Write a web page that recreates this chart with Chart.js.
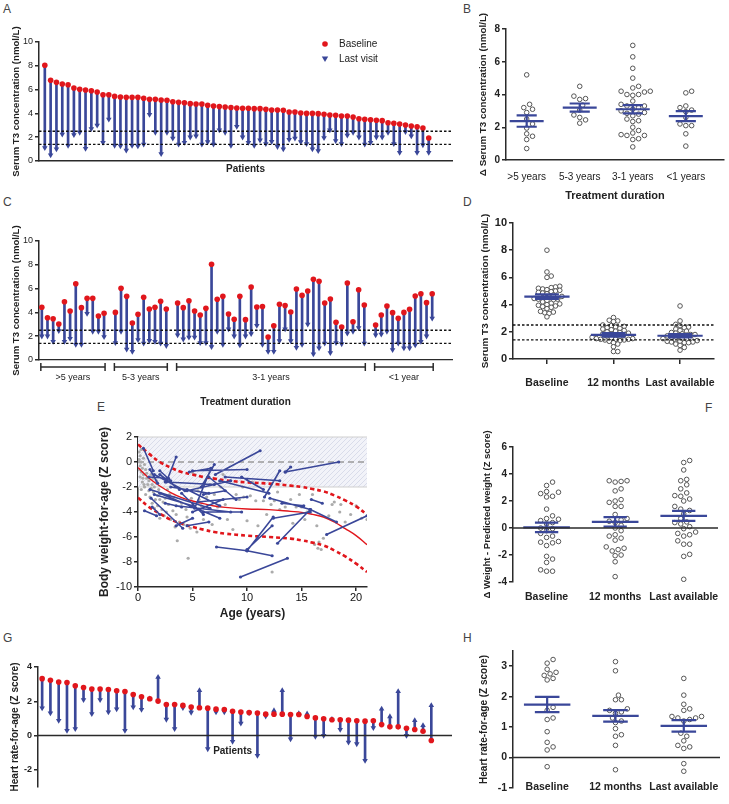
<!DOCTYPE html>
<html>
<head>
<meta charset="utf-8">
<script src="https://cdn.jsdelivr.net/npm/chart.js@4.4.1/dist/chart.umd.min.js"></script>
<style>
body { margin: 0; background: #fff; width: 729px; height: 804px; position: relative; overflow: hidden; font-family: "Liberation Sans", Arial, sans-serif; }
canvas { position: absolute; }
.tag { position: absolute; font-size: 12px; color: #444; }
</style>
</head>
<body>
<div class="tag" style="left:3px;top:2px">A</div>
<div class="tag" style="left:463px;top:2px">B</div>
<div class="tag" style="left:3px;top:195px">C</div>
<div class="tag" style="left:463px;top:195px">D</div>
<div class="tag" style="left:97px;top:400px">E</div>
<div class="tag" style="left:705px;top:401px">F</div>
<div class="tag" style="left:3px;top:631px">G</div>
<div class="tag" style="left:463px;top:631px">H</div>

<canvas id="chartA"></canvas>
<canvas id="chartB"></canvas>
<canvas id="chartC"></canvas>
<canvas id="chartD"></canvas>
<canvas id="chartE"></canvas>
<canvas id="chartF"></canvas>
<canvas id="chartG"></canvas>
<canvas id="chartH"></canvas>

<script>
// ---- Serum T3 per patient (panel C order, A is the same patients sorted)
const durationGroups = ['>5 years', '5-3 years', '3-1 years', '<1 year'];
const groupSizes = [12, 10, 34, 11];
const t3Baseline = [
    4.43, 3.55, 3.47, 3.03, 4.9, 4.12, 6.41, 4.4, 5.18, 5.18, 3.7, 3.92,
    4.0, 6.02, 5.35, 3.1, 3.84, 5.27, 4.29, 4.43, 4.93, 4.29,
    4.79, 4.4, 4.98, 4.12, 3.78, 4.34, 8.04, 5.1, 5.35, 3.87, 3.42, 5.35, 3.39, 6.13, 4.45, 4.5, 1.93,
    2.88, 4.68, 4.57, 4.03, 5.97, 5.43, 5.8, 6.78, 6.61, 4.79, 5.13, 3.17, 2.77, 6.47, 3.22, 5.9, 4.62,
    2.94, 3.78, 4.54, 3.98, 3.5, 4.0, 4.26, 5.38, 5.57, 4.82, 5.57
];
const t3LastVisit = [
    2.0, 2.0, 1.55, 2.45, 1.55, 1.8, 1.3, 1.3, 3.9, 2.4, 2.4, 1.95,
    1.45, 2.4, 0.9, 0.7, 1.7, 1.4, 1.62, 1.55, 1.4, 1.2,
    2.1, 1.75, 1.9, 1.9, 1.45, 1.45, 1.1, 2.4, 1.3, 2.6, 2.0, 1.25, 2.0, 2.2, 2.9, 1.3, 0.7,
    0.7, 1.6, 2.6, 1.6, 1.05, 1.3, 3.0, 0.5, 1.0, 1.4, 0.6, 1.45, 1.35, 2.25, 2.4, 2.7, 1.4,
    2.1, 2.15, 2.4, 0.85, 1.4, 1.0, 1.0, 1.25, 1.55, 2.0, 3.5
];
const t3RefRange = [1.4, 2.5];
const t3Ticks = [0, 2, 4, 6, 8, 10];

// ---- Delta T3 by treatment duration (panel B)
const deltaGroups = ['>5 years', '5-3 years', '3-1 years', '<1 years'];
const deltaOver5 = [5.2, 3.4, 3.2, 3.1, 2.9, 2.5, 2.2, 1.95, 1.6, 1.45, 1.25, 0.7];
const delta5to3 = [4.5, 3.9, 3.75, 3.7, 3.35, 3.05, 2.75, 2.6, 2.45, 2.25];
const delta3to1 = [7.0, 6.3, 5.6, 5.0, 4.5, 4.4, 4.2, 4.2, 4.15, 4.0, 4.0, 3.95, 3.6, 3.4, 3.3, 3.3, 3.2, 3.1,
    3.0, 2.9, 2.85, 2.8, 2.7, 2.5, 2.4, 2.35, 2.0, 1.8, 1.65, 1.55, 1.5, 1.5, 1.3, 1.25, 0.8];
const deltaUnder1 = [4.2, 4.1, 3.3, 3.2, 3.05, 2.95, 2.6, 2.2, 2.1, 2.1, 1.6, 0.85];
const deltaMean = [2.38, 3.2, 3.1, 2.68];
const deltaSem = [0.35, 0.25, 0.25, 0.3];
const deltaTicks = [0, 2, 4, 6, 8];

// ---- T3 by visit (panel D)
const visitLabels = ['Baseline', '12 months', 'Last available'];
const t3AtBaseline = [8.0, 6.4, 6.1, 6.0, 5.35, 5.3, 5.25, 5.2, 5.15, 5.1, 5.05, 5.0, 4.95, 4.9, 4.85, 4.8, 4.7,
    4.6, 4.55, 4.5, 4.45, 4.4, 4.4, 4.35, 4.3, 4.2, 4.1, 4.05, 4.0, 3.95, 3.9, 3.85, 3.8, 3.7, 3.5, 3.45, 3.4, 3.35, 3.1];
const t3At12m = [3.05, 2.85, 2.8, 2.75, 2.5, 2.45, 2.4, 2.35, 2.3, 2.25, 2.2, 2.15, 2.1, 2.05, 2.0, 1.95, 1.9,
    1.85, 1.85, 1.8, 1.75, 1.7, 1.65, 1.6, 1.55, 1.5, 1.5, 1.45, 1.45, 1.45, 1.4, 1.4, 1.35, 1.3, 1.2, 1.1, 0.9, 0.55, 0.55];
const t3AtLast = [3.9, 2.8, 2.55, 2.45, 2.35, 2.3, 2.2, 2.1, 2.05, 1.95, 1.9, 1.85, 1.8, 1.8, 1.75, 1.7, 1.65,
    1.6, 1.55, 1.5, 1.5, 1.45, 1.4, 1.35, 1.3, 1.3, 1.25, 1.25, 1.2, 1.2, 1.1, 1.0, 0.85, 0.65];
const t3VisitMean = [4.59, 1.78, 1.71];
const t3VisitSem = [0.17, 0.13, 0.12];

// ---- Weight for age (panel E)
const ageTicks = [0, 5, 10, 15, 20];
const zTicks = [-10, -8, -6, -4, -2, 0, 2];
const normalBand = [-2, 2];
const grayAge = [0.1, 0.2, 0.1, 0.3, 0.2, 0.4, 0.3, 0.5, 0.2, 0.6, 0.5, 0.7, 0.8, 0.4, 0.9, 0.6, 0.3, 0.8, 1.0, 1.0,
    0.7, 0.1, 0.3, 0.15, 0.45, 0.55, 1.2, 1.3, 1.4, 1.1, 1.5, 1.6, 1.7, 1.8, 1.9, 1.3, 1.5, 2.0, 1.2, 1.8, 1.4,
    2.1, 2.3, 2.5, 2.2, 2.6, 2.8, 2.9, 2.4, 3.0, 2.7, 2.0, 3.2, 3.5, 3.8, 4.0, 4.2, 4.5, 4.8, 3.6, 4.6, 3.4, 4.9,
    3.3, 4.4, 5.2, 5.5, 5.8, 6.0, 6.3, 6.6, 7.0, 7.3, 7.6, 8.0, 8.5, 5.0, 5.4, 6.8, 8.2, 5.6, 7.8, 8.8, 9.0, 9.3,
    9.7, 10.0, 10.3, 10.8, 11.0, 11.5, 11.8, 12.2, 12.5, 12.3, 8.7, 9.6, 10.5, 13.0, 12.8, 13.5, 14.0, 14.5, 14.8,
    15.0, 15.5, 16.0, 16.2, 16.5, 16.8, 16.6, 17.0, 17.5, 17.8, 18.0, 18.6, 19.0, 19.5, 20.0, 20.5, 21.0, 14.2,
    16.4, 18.5, 15.3];
const grayZ = [0.8, 0.5, 0.2, 0.0, -0.3, -0.5, -0.8, -1.0, -1.2, -0.2, 0.3, -0.6, -1.3, -1.6, -1.8, -2.0, -2.2, -0.9,
    -1.5, -2.3, -2.6, -0.6, 1.0, 0.0, -1.3, -1.8, -1.0, -1.8, -2.4, -2.8, -2.0, -3.0, -1.5, -2.7, -2.2, -3.3, -3.7,
    -3.0, -2.1, -3.5, -1.3, -2.5, -3.2, -2.9, -3.8, -4.0, -3.4, -2.6, -4.3, -4.6, -2.2, -4.5, -3.9, -4.2, -4.8, -3.3,
    -5.0, -4.4, -5.3, -6.3, -7.7, -5.2, -2.9, -2.8, -3.8, -1.0, -2.3, -3.5, -4.6, -2.8, -1.8, -2.6, -3.6, -2.0, -3.4,
    -1.5, -0.8, -5.6, -5.0, -4.6, -3.0, -1.0, -2.9, -2.6, -3.0, -2.8, -4.7, -2.7, -3.1, -5.1, -3.1, -4.2, -3.4, -3.1,
    -8.8, -5.4, -2.0, -1.6, -3.8, -2.4, -3.6, -3.0, -3.6, -2.6, -3.6, -4.0, -2.6, -6.6, -6.9, -7.0, -6.4, -6.1, -4.3,
    -3.4, -3.2, -3.4, -4.8, -4.2, -3.5, -4.5, -4.6, -4.9, -5.1, -4.0, -4.6];
// patient trajectories: first and last measurement
const segAgeFrom = [0.5, 3.5, 1.1, 4.7, 6.7, 1.1, 1.2, 0.6, 5.0, 11.2, 18.4, 14.0, 13.0, 12.1, 15.8, 15.9, 21.0,
    15.8, 12.4, 12.4, 7.2, 10.0, 9.4, 12.3, 2.0, 1.5, 2.5, 3.0, 1.5, 2.0, 3.5, 6.5, 8.0, 7.5, 9.5, 4.0, 6.0, 4.5,
    3.5, 2.5, 7.0, 8.5, 7.8, 1.0, 2.0, 13.2, 6.0, 4.5, 10.0, 1.3];
const segZFrom = [1.1, 0.4, -0.6, -0.8, -0.5, -2.2, -2.9, -3.9, -0.7, 0.9, 0.0, -0.4, -0.7, -2.9, -3.8, -3.0, -4.3,
    -3.8, -4.5, -4.4, -6.8, -7.1, -9.2, -5.1, -0.7, -1.0, -1.6, -2.0, -2.6, -2.5, -3.5, -1.2, -1.2, -1.5, -1.2, -2.5,
    -4.0, -5.1, -5.1, -3.3, -0.2, -1.5, -3.0, -1.2, -1.0, -3.3, -2.6, -2.2, -2.8, -3.6];
const segAgeTo = [1.4, 2.6, 1.8, 6.7, 5.2, 6.6, 4.1, 1.7, 10.0, 7.1, 13.5, 13.5, 11.6, 15.8, 18.2, 16.9, 17.3,
    12.8, 15.8, 10.0, 10.0, 12.3, 13.7, 10.0, 3.0, 4.3, 7.0, 6.5, 5.0, 7.5, 8.5, 9.0, 13.0, 12.0, 11.5, 6.0, 9.5, 6.5,
    5.0, 4.0, 5.8, 4.5, 5.0, 2.8, 3.8, 15.2, 8.0, 7.5, 5.5, 2.0];
const segZTo = [-0.7, -1.6, -1.7, -0.5, -3.7, -3.7, -5.3, -4.3, -0.6, -1.0, -0.8, -0.8, -2.8, -3.8, -4.8, -3.3, -5.8,
    -6.5, -4.0, -7.1, -7.1, -7.5, -7.7, -7.0, -1.5, -2.3, -1.8, -2.5, -3.5, -4.5, -4.0, -3.0, -1.5, -2.5, -2.2, -4.2,
    -4.0, -4.8, -4.5, -3.6, -2.0, -2.3, -4.0, -1.3, -2.2, -3.5, -2.3, -3.5, -3.2, -4.2];
// fitted curve and 95% band
const fitAge = [0, 1, 2, 3, 4, 5, 6, 7, 8, 10, 12, 14, 15, 16, 17, 18, 19, 20, 21];
const fitMid = [-0.45, -1.28, -1.92, -2.45, -2.85, -3.12, -3.33, -3.52, -3.63, -3.76, -3.81, -3.95, -4.03, -4.19,
    -4.4, -4.8, -5.33, -5.89, -6.61];
const fitUpper = [1.41, 0.67, 0.0, -0.45, -0.8, -1.0, -1.2, -1.33, -1.47, -1.63, -1.73, -1.89, -2.0, -2.16, -2.35,
    -2.67, -3.07, -3.55, -4.21];
const fitLower = [-2.85, -3.6, -4.13, -4.61, -4.93, -5.2, -5.41, -5.6, -5.73, -5.89, -6.0, -6.13, -6.27, -6.45, -6.67,
    -7.07, -7.55, -8.13, -8.8];

// ---- Weight minus predicted (panel F)
const wdBaseline = [3.4, 3.15, 2.7, 2.65, 2.55, 2.35, 2.3, 1.4, 0.9, 0.7, 0.65, 0.55, 0.4, 0.3, 0.0, -0.05, -0.2,
    -0.4, -0.6, -0.7, -1.0, -1.05, -1.1, -1.3, -2.1, -2.3, -2.55, -3.1, -3.2, -3.2];
const wd12m = [3.5, 3.5, 3.45, 3.4, 2.9, 2.75, 2.1, 2.0, 1.9, 1.6, 1.6, 1.0, 0.7, 0.6, 0.5, 0.4, 0.2, 0.0, -0.2,
    -0.5, -0.6, -0.75, -0.9, -1.4, -1.5, -1.6, -1.7, -2.0, -2.05, -2.5, -3.6];
const wdLast = [5.0, 4.85, 4.3, 3.6, 3.5, 3.2, 2.9, 2.6, 2.4, 2.35, 2.15, 2.0, 1.6, 1.4, 1.3, 1.05, 0.7, 0.45, 0.4,
    0.3, 0.1, -0.05, -0.3, -0.4, -0.5, -0.6, -0.95, -1.2, -1.2, -1.95, -2.1, -3.8];
const wdMean = [0.05, 0.45, 0.9];
const wdSem = [0.35, 0.35, 0.37];
const wdTicks = [-4, -2, 0, 2, 4, 6];

// ---- Heart rate per patient (panel G)
const hrBaseline = [3.32, 3.22, 3.12, 3.1, 2.9, 2.8, 2.71, 2.71, 2.69, 2.61, 2.57, 2.4, 2.26, 2.15, 2.01, 1.81, 1.81,
    1.76, 1.66, 1.62, 1.6, 1.54, 1.52, 1.42, 1.37, 1.35, 1.31, 1.25, 1.25, 1.25, 1.23, 1.23, 1.11, 1.03, 0.98, 0.92,
    0.92, 0.9, 0.86, 0.84, 0.86, 0.64, 0.51, 0.51, 0.43, 0.35, 0.25, -0.29];
const hrLastVisit = [1.6, 1.31, 0.88, 0.29, 0.39, 2.09, 1.27, 2.09, 1.37, 1.54, 0.29, 1.66, 1.52, 2.15, 3.41, 0.94,
    0.39, 1.62, 1.35, 2.63, -0.78, 1.37, 1.37, -0.35, 0.72, 1.31, -1.17, 1.13, 1.46, 2.63, -0.2, 1.29, 1.27, -0.06, 0,
    0.96, 0.35, -0.39, -0.49, -1.46, 0.45, 1.56, 1.11, 2.58, 0, 0.88, 0.59, 1.76];
const hrTicks = [-2, 0, 2, 4];

// ---- Heart rate by visit (panel H)
const hrAtBaseline = [3.22, 3.1, 2.9, 2.8, 2.75, 2.7, 2.6, 2.55, 1.65, 1.55, 1.3, 1.25, 0.85, 0.5, 0.35, 0.25, -0.3];
const hrAt12m = [3.15, 2.85, 2.05, 1.9, 1.9, 1.6, 1.55, 1.5, 1.45, 1.3, 1.2, 1.15, 0.95, 0.75, 0.7, 0.4, -0.4];
const hrAtLast = [2.6, 2.05, 1.75, 1.6, 1.55, 1.35, 1.35, 1.3, 1.3, 1.25, 1.2, 0.8, 0.7, 0.55, 0.4, 0.35, 0.3, -0.2, -0.45];
const hrVisitMean = [1.74, 1.37, 1.04];
const hrVisitSem = [0.25, 0.19, 0.19];
const hrVisitTicks = [-1, 0, 1, 2, 3];

// ------------------------------------------------------------------
const RED = '#e1161c';
const BLUE = '#3a4799';
const AXIS = '#2a2a2a';
const FONT = '"Liberation Sans", Arial, sans-serif';

Chart.defaults.font.family = FONT;
Chart.defaults.color = '#222';
Chart.defaults.animation = false;
Chart.defaults.responsive = false;
Chart.defaults.events = [];
Chart.defaults.plugins.legend.display = false;
Chart.defaults.plugins.tooltip.enabled = false;

// place a canvas and work out the padding that puts the plot area where we want it
function frame(id, box, area) {
    const c = document.getElementById(id);
    c.style.left = box.x + 'px';
    c.style.top = box.y + 'px';
    c.width = box.w;
    c.height = box.h;
    return {
        canvas: c,
        padding: { top: area.t - box.y, right: box.x + box.w - area.r, left: 0, bottom: 0 },
        yW: area.l - box.x,
        xH: box.y + box.h - area.b
    };
}

function yAxis(f, min, max, ticks, title, o) {
    return {
        type: 'linear', min, max,
        afterFit: s => { s.width = f.yW; },
        afterBuildTicks: s => { s.ticks = ticks.map(v => ({ value: v })); },
        border: { color: AXIS, width: 1.5 },
        grid: { drawOnChartArea: false, color: AXIS, lineWidth: 1.5, tickLength: 4 },
        ticks: { font: { size: o.tick, weight: o.bold ? 'bold' : 'normal' }, color: '#222', padding: 2 },
        title: { display: true, text: title, color: '#222', font: { size: o.title, weight: 'bold' }, padding: { top: o.pad, bottom: 0 } }
    };
}

function line(ctx, x1, y1, x2, y2) {
    ctx.beginPath();
    ctx.moveTo(x1, y1);
    ctx.lineTo(x2, y2);
    ctx.stroke();
}

function hatch() {
    const p = document.createElement('canvas');
    p.width = 5; p.height = 5;
    const c = p.getContext('2d');
    c.fillStyle = '#f2f3f9';
    c.fillRect(0, 0, 5, 5);
    c.strokeStyle = '#d2d5e6';
    c.lineWidth = 0.8;
    line(c, -1, 6, 6, -1);
    return c.createPattern(p, 'repeat');
}

// extra drawing: reference lines, brackets, legend, free labels
const guides = {
    id: 'guides',
    beforeDatasetsDraw(chart, args, o) {
        const { ctx, chartArea: a, scales: { y } } = chart;
        if (o.band) {
            const top = y.getPixelForValue(o.band[1]);
            const bot = y.getPixelForValue(o.band[0]);
            ctx.save();
            ctx.fillStyle = hatch();
            ctx.fillRect(a.left, top, a.right - a.left, bot - top);
            ctx.strokeStyle = '#cfcfcf';
            ctx.lineWidth = 1.2;
            line(ctx, a.left, top, a.right, top);
            line(ctx, a.left, bot, a.right, bot);
            ctx.strokeStyle = '#9a9a9a';
            ctx.lineWidth = 1.6;
            ctx.setLineDash([6, 4]);
            const z = y.getPixelForValue(0);
            line(ctx, a.left, z, a.right, z);
            ctx.restore();
        }
    },
    afterDatasetsDraw(chart, args, o) {
        const { ctx, chartArea: a, scales: { x, y } } = chart;
        ctx.save();
        if (o.refLines) {
            ctx.strokeStyle = '#111';
            ctx.lineWidth = 1.3;
            ctx.setLineDash([2.5, 2]);
            o.refLines.forEach(v => {
                const py = y.getPixelForValue(v);
                line(ctx, a.left, py, a.right, py);
            });
            ctx.setLineDash([]);
        }
        if (o.zeroLine) {
            ctx.strokeStyle = AXIS;
            ctx.lineWidth = 1.5;
            const py = y.getPixelForValue(0);
            line(ctx, a.left, py, a.right, py);
        }
        if (o.brackets) {
            const b = o.brackets;
            ctx.strokeStyle = AXIS;
            ctx.lineWidth = 1.5;
            ctx.fillStyle = '#222';
            ctx.font = '9px ' + FONT;
            ctx.textAlign = 'center';
            ctx.textBaseline = 'middle';
            const by = a.bottom + 7;
            b.names.forEach((name, i) => {
                const x1 = x.getPixelForValue(b.starts[i]) - 1;
                const x2 = x.getPixelForValue(b.ends[i]) + 1;
                line(ctx, x1, by, x2, by);
                line(ctx, x1, by - 4, x1, by + 4);
                line(ctx, x2, by - 4, x2, by + 4);
                ctx.fillText(name, (x1 + x2) / 2, a.bottom + 18);
            });
        }
        if (o.legend) {
            const lx = a.left + 286;
            const ly = a.top + 2;
            ctx.fillStyle = RED;
            ctx.beginPath();
            ctx.arc(lx, ly, 2.8, 0, Math.PI * 2);
            ctx.fill();
            ctx.fillStyle = BLUE;
            ctx.beginPath();
            ctx.moveTo(lx - 3.2, ly + 12.5);
            ctx.lineTo(lx + 3.2, ly + 12.5);
            ctx.lineTo(lx, ly + 18);
            ctx.closePath();
            ctx.fill();
            ctx.fillStyle = '#222';
            ctx.font = '10px ' + FONT;
            ctx.textAlign = 'left';
            ctx.textBaseline = 'middle';
            ctx.fillText(o.legend[0], lx + 14, ly);
            ctx.fillText(o.legend[1], lx + 14, ly + 15);
        }
        if (o.note) {
            ctx.fillStyle = '#222';
            ctx.font = 'bold 10px ' + FONT;
            ctx.textAlign = 'center';
            ctx.textBaseline = 'middle';
            ctx.fillText(o.note.text, x.getPixelForValue(o.note.at), y.getPixelForValue(0) + 16);
        }
        if (o.cats) {
            // category names level with the bottom of the value axis
            ctx.fillStyle = '#222';
            ctx.font = 'bold 10.5px ' + FONT;
            ctx.textAlign = 'center';
            ctx.textBaseline = 'middle';
            o.cats.forEach((name, i) => ctx.fillText(name, x.getPixelForValue(i + 1), a.bottom - 1));
        }
        ctx.restore();
    }
};
Chart.register(guides);

// before/after chart (panels A, C, G)
function arrowChart(f, labels, base, last, o) {
    const bars = base.map((b, i) => (b === null ? null : [Math.min(b, last[i]), Math.max(b, last[i])]));
    return new Chart(f.canvas, {
        type: 'bar',
        data: {
            labels,
            datasets: [
                { type: 'line', data: base, showLine: false, order: 0,
                  pointRadius: o.dot, pointBackgroundColor: RED, pointBorderWidth: 0 },
                { type: 'line', data: last, showLine: false, order: 1,
                  pointStyle: 'triangle', pointRadius: 3.2, pointBackgroundColor: BLUE, pointBorderWidth: 0,
                  pointRotation: ctx => (last[ctx.dataIndex] < base[ctx.dataIndex] ? 180 : 0) },
                { type: 'bar', data: bars, order: 2, backgroundColor: BLUE, barThickness: 2 }
            ]
        },
        options: {
            layout: { padding: f.padding },
            scales: {
                x: o.x,
                y: o.y
            },
            plugins: { guides: o.guides }
        }
    });
}

// swarm layout for one group of values
function swarm(values, centre, pxY, pxX, diam) {
    const order = values.map((v, i) => i).sort((a, b) => values[a] - values[b]);
    const placed = [];
    const out = new Array(values.length);
    order.forEach(i => {
        const py = values[i] * pxY;
        let off = 0;
        for (let k = 0; k < 80; k++) {
            const cand = (k % 2 ? 1 : -1) * Math.ceil(k / 2) * diam * 0.55;
            if (placed.every(p => (p.x - cand) ** 2 + (p.y - py) ** 2 >= diam * diam * 0.95)) { off = cand; break; }
        }
        placed.push({ x: off, y: py });
        out[i] = { x: centre + off / pxX, y: values[i] };
    });
    return out;
}

// dot plot with mean +/- SEM (panels B, D, F, H)
function dotPlot(f, groups, cats, mean, sem, o) {
    const pts = [];
    groups.forEach((vals, g) => pts.push(...swarm(vals, g + 1, o.pxY, o.pxX, o.diam || 5.4)));
    const glyph = [];
    mean.forEach((m, g) => {
        const c = g + 1, hi = m + sem[g], lo = m - sem[g];
        glyph.push({ x: c - o.meanW, y: m }, { x: c + o.meanW, y: m }, { x: c, y: null },
            { x: c - o.semW, y: hi }, { x: c + o.semW, y: hi }, { x: c, y: null },
            { x: c - o.semW, y: lo }, { x: c + o.semW, y: lo }, { x: c, y: null },
            { x: c, y: hi }, { x: c, y: lo }, { x: c, y: null });
    });
    return new Chart(f.canvas, {
        type: 'scatter',
        data: {
            datasets: [
                { data: glyph, showLine: true, spanGaps: false, borderColor: BLUE, borderWidth: 2.2,
                  pointRadius: 0, order: 0 },
                { data: pts, pointRadius: 2.3, pointBorderWidth: 1, pointBorderColor: '#555',
                  pointBackgroundColor: '#fff', order: 1 }
            ]
        },
        options: {
            layout: { padding: f.padding },
            scales: {
                x: {
                    type: 'linear', min: o.xMin, max: o.xMax,
                    afterFit: s => { s.height = f.xH; },
                    afterBuildTicks: s => { s.ticks = cats.map((c, i) => ({ value: i + 1 })); },
                    border: { display: o.xBorder, color: AXIS, width: 1.5 },
                    grid: { display: o.xMarks, drawOnChartArea: false, color: AXIS, lineWidth: 1.5, tickLength: 5 },
                    ticks: { display: !o.inlineCats, callback: v => cats[v - 1],
                             font: { size: o.catSize, weight: o.catBold ? 'bold' : 'normal' },
                             color: '#222', padding: o.catPad, maxRotation: 0, autoSkip: false },
                    title: o.xTitle ? { display: true, text: o.xTitle, color: '#222',
                             font: { size: 11, weight: 'bold' }, padding: { top: 0, bottom: o.xTitlePad } } : { display: false }
                },
                y: o.y
            },
            plugins: { guides: o.guides }
        }
    });
}

// ---------------- Panel A ----------------
(function () {
    const f = frame('chartA', { x: 0, y: 18, w: 460, h: 164 }, { l: 39, t: 42, r: 452, b: 161 });
    const idx = t3Baseline.map((v, i) => i).sort((a, b) => t3Baseline[b] - t3Baseline[a]);
    const labels = [''].concat(idx.map(i => 'P' + (i + 1)), ['', '', '', '']);
    const base = [null].concat(idx.map(i => t3Baseline[i]), [null, null, null, null]);
    const last = [null].concat(idx.map(i => t3LastVisit[i]), [null, null, null, null]);
    arrowChart(f, labels, base, last, {
        dot: 2.8,
        x: { type: 'category', offset: false, afterFit: s => { s.height = f.xH; },
             border: { color: AXIS, width: 1.5 }, grid: { display: false }, ticks: { display: false },
             title: { display: true, text: 'Patients', color: '#222', font: { size: 10, weight: 'bold' }, padding: { top: 0, bottom: 7 } } },
        y: yAxis(f, 0, 10, t3Ticks, 'Serum T3 concentration (nmol/L)', { tick: 9, bold: false, title: 9.6, pad: 10.5 }),
        guides: { refLines: t3RefRange, legend: ['Baseline', 'Last visit'] }
    });
})();

// ---------------- Panel C ----------------
(function () {
    const f = frame('chartC', { x: 0, y: 218, w: 460, h: 192 }, { l: 39, t: 241, r: 452, b: 360 });
    const labels = [], base = [], last = [], starts = [], ends = [];
    let p = 0;
    groupSizes.forEach((n, g) => {
        if (g > 0) { labels.push(''); base.push(null); last.push(null); }
        starts.push(labels.length);
        for (let k = 0; k < n; k++, p++) {
            labels.push('P' + (p + 1));
            base.push(t3Baseline[p]);
            last.push(t3LastVisit[p]);
        }
        ends.push(labels.length - 1);
    });
    for (let k = 0; k < 3; k++) { labels.push(''); base.push(null); last.push(null); }
    arrowChart(f, labels, base, last, {
        dot: 2.8,
        x: { type: 'category', offset: true, afterFit: s => { s.height = f.xH; },
             border: { color: AXIS, width: 1.2 }, grid: { display: false }, ticks: { display: false },
             title: { display: true, text: 'Treatment duration', color: '#222', font: { size: 10, weight: 'bold' }, padding: { top: 0, bottom: 2 } } },
        y: yAxis(f, 0, 10, t3Ticks, 'Serum T3 concentration (nmol/L)', { tick: 9, bold: false, title: 9.6, pad: 10.5 }),
        guides: { refLines: t3RefRange, brackets: { names: durationGroups, starts, ends } }
    });
})();

// ---------------- Panel G ----------------
(function () {
    const f = frame('chartG', { x: 0, y: 650, w: 460, h: 150 }, { l: 38, t: 667, r: 452, b: 787 });
    f.padding.bottom = f.xH;
    const labels = hrBaseline.map((v, i) => 'P' + (i + 1)).concat(['', '']);
    const base = hrBaseline.concat([null, null]);
    const last = hrLastVisit.concat([null, null]);
    arrowChart(f, labels, base, last, {
        dot: 2.8,
        x: { type: 'category', offset: true, display: false },
        y: yAxis(f, -3, 4, hrTicks, 'Heart rate-for-age (Z score)', { tick: 9, bold: true, title: 10, pad: 9.5 }),
        guides: { zeroLine: true, note: { text: 'Patients', at: 23 } }
    });
})();

// ---------------- Panel B ----------------
(function () {
    const f = frame('chartB', { x: 470, y: 12, w: 259, h: 194 }, { l: 506, t: 29, r: 728, b: 160 });
    dotPlot(f, [deltaOver5, delta5to3, delta3to1, deltaUnder1], deltaGroups, deltaMean, deltaSem, {
        pxY: 16.4, pxX: 54, meanW: 0.32, semW: 0.19, xMin: 0.61, xMax: 4.72,
        xBorder: true, xMarks: false, catSize: 10, catBold: false, catPad: 6,
        xTitle: 'Treatment duration', xTitlePad: 3,
        y: yAxis(f, 0, 8, deltaTicks, '\u0394 Serum T3 concentration (nmol/L)', { tick: 10, bold: true, title: 9.8, pad: 7.5 }),
        guides: {}
    });
})();

// ---------------- Panel D ----------------
(function () {
    const f = frame('chartD', { x: 470, y: 206, w: 259, h: 196 }, { l: 513, t: 223, r: 720, b: 359 });
    dotPlot(f, [t3AtBaseline, t3At12m, t3AtLast], visitLabels, t3VisitMean, t3VisitSem, {
        pxY: 13.6, pxX: 68.5, meanW: 0.34, semW: 0.18, xMin: 0.49, xMax: 3.51, diam: 4.0,
        xBorder: true, xMarks: true, catSize: 10.5, catBold: true, catPad: 13,
        y: yAxis(f, 0, 10, t3Ticks, 'Serum T3 concentration (nmol/L)', { tick: 11, bold: true, title: 9.9, pad: 9.5 }),
        guides: { refLines: t3RefRange }
    });
})();

// ---------------- Panel F ----------------
(function () {
    const f = frame('chartF', { x: 470, y: 430, w: 259, h: 180 }, { l: 513, t: 447, r: 718, b: 582 });
    dotPlot(f, [wdBaseline, wd12m, wdLast], visitLabels, wdMean, wdSem, {
        pxY: 13.5, pxX: 68.5, meanW: 0.34, semW: 0.17, xMin: 0.51, xMax: 3.5,
        xBorder: false, xMarks: false, catSize: 10.5, catBold: true, catPad: 4,
        y: yAxis(f, -4, 6, wdTicks, '\u0394 Weight - Predicted weight (Z score)', { tick: 10, bold: true, title: 9.5, pad: 11.5 }),
        guides: { zeroLine: true }
    });
})();

// ---------------- Panel H ----------------
(function () {
    const f = frame('chartH', { x: 470, y: 640, w: 259, h: 160 }, { l: 513, t: 651, r: 720, b: 788 });
    dotPlot(f, [hrAtBaseline, hrAt12m, hrAtLast], visitLabels, hrVisitMean, hrVisitSem, {
        pxY: 30.4, pxX: 68.5, meanW: 0.34, semW: 0.18, xMin: 0.5, xMax: 3.53,
        xBorder: false, xMarks: false, inlineCats: true, catSize: 10.5, catBold: true, catPad: 0,
        y: yAxis(f, -1, 3.5, hrVisitTicks, 'Heart rate-for-age (Z score)', { tick: 10.5, bold: true, title: 10, pad: 8.5 }),
        guides: { zeroLine: true, cats: visitLabels }
    });
})();

// ---------------- Panel E ----------------
(function () {
    const f = frame('chartE', { x: 90, y: 415, w: 290, h: 215 }, { l: 138, t: 437, r: 367, b: 587 });
    const gray = grayAge.map((a, i) => ({ x: a, y: grayZ[i] }));
    const segs = [];
    segAgeFrom.forEach((a, i) => {
        segs.push({ x: a, y: segZFrom[i] }, { x: segAgeTo[i], y: segZTo[i] }, { x: a, y: null });
    });
    const curve = vals => fitAge.map((a, i) => ({ x: a, y: vals[i] }));
    new Chart(f.canvas, {
        type: 'scatter',
        data: {
            datasets: [
                { data: segs, showLine: true, spanGaps: false, borderColor: BLUE, borderWidth: 1.6,
                  pointRadius: 1.6, pointBackgroundColor: BLUE, pointBorderWidth: 0, order: 0 },
                { data: curve(fitMid), showLine: true, tension: 0.4, borderColor: RED, borderWidth: 1.4,
                  pointRadius: 0, order: 1 },
                { data: curve(fitUpper), showLine: true, tension: 0.4, borderColor: RED, borderWidth: 2.6,
                  borderDash: [4, 3], pointRadius: 0, order: 1 },
                { data: curve(fitLower), showLine: true, tension: 0.4, borderColor: RED, borderWidth: 2.6,
                  borderDash: [4, 3], pointRadius: 0, order: 1 },
                { data: gray, pointRadius: 1.6, pointBackgroundColor: '#ababab', pointBorderWidth: 0, order: 2 }
            ]
        },
        options: {
            layout: { padding: f.padding },
            scales: {
                x: {
                    type: 'linear', min: 0, max: 21,
                    afterFit: s => { s.height = f.xH; },
                    afterBuildTicks: s => { s.ticks = ageTicks.map(v => ({ value: v })); },
                    border: { color: AXIS, width: 1.5 },
                    grid: { drawOnChartArea: false, color: AXIS, lineWidth: 1.5, tickLength: 4 },
                    ticks: { font: { size: 11 }, color: '#111', padding: 0 },
                    title: { display: true, text: 'Age (years)', color: '#222', font: { size: 12, weight: 'bold' }, padding: { top: 0, bottom: 9 } }
                },
                y: yAxis(f, -10, 2, zTicks, 'Body weight-for-age (Z score)', { tick: 11, bold: false, title: 12, pad: 7.8 })
            },
            plugins: { guides: { band: normalBand } }
        }
    });
})();
</script>
</body>
</html>
